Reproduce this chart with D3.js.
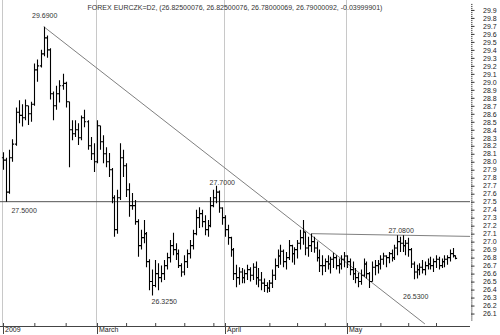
<!DOCTYPE html>
<html>
<head>
<meta charset="utf-8">
<script src="https://cdn.jsdelivr.net/npm/d3@7"></script>
<style>
body { margin: 0; background: #fff; }
svg { display: block; font-family: "Liberation Sans", Arial, sans-serif; }
</style>
</head>
<body>
<svg width="500" height="335"></svg>
<script>
// EUR/CZK, two bars per trading day (00:00 and 12:00 sessions)
const firstDay = "2009-02-09";
const lastDay = "2009-05-28";

const opens = [
  28.05, 28.02, 27.62, 28.05, 28.22, 28.62, 28.58, 28.55, 28.70, 28.60,
  28.72, 29.15, 29.20, 29.35, 29.55, 29.40, 28.85, 28.70, 28.85, 28.95,
  28.98, 28.75, 28.40, 28.35, 28.40, 28.30, 28.55, 28.50, 28.20, 28.10,
  28.00, 28.45, 28.25, 28.10, 28.00, 27.90, 27.55, 27.15, 27.55, 28.05,
  27.95, 27.65, 27.45, 27.45, 27.25, 26.95, 27.05, 27.10, 26.75, 26.50,
  26.45, 26.60, 26.55, 26.60, 26.70, 26.80, 26.95, 26.90, 26.85, 26.70,
  26.62, 26.75, 26.85, 26.95, 27.10, 27.30, 27.35, 27.25, 27.15, 27.20,
  27.45, 27.55, 27.62, 27.42, 27.30, 27.15, 27.05, 26.90, 26.60, 26.55,
  26.62, 26.55, 26.60, 26.65, 26.58, 26.68, 26.55, 26.52, 26.48, 26.45,
  26.42, 26.48, 26.58, 26.70, 26.82, 26.88, 26.75, 26.80, 26.95, 26.85,
  26.90, 26.98, 27.05, 27.12, 26.92, 26.95, 27.00, 26.92, 26.80, 26.70,
  26.70, 26.75, 26.72, 26.78, 26.80, 26.70, 26.72, 26.78, 26.82, 26.75,
  26.65, 26.60, 26.55, 26.50, 26.58, 26.72, 26.60, 26.50, 26.68, 26.70,
  26.72, 26.78, 26.82, 26.80, 26.85, 26.80, 26.92, 27.00, 26.98, 26.95,
  26.98, 26.90, 26.72, 26.62, 26.65, 26.68, 26.65, 26.70, 26.72, 26.70,
  26.75, 26.78, 26.70, 26.75, 26.78, 26.80, 26.85, 26.825
];
const highs = [
  28.12, 28.05, 28.15, 28.28, 28.68, 28.77, 28.72, 28.78, 28.70, 28.75,
  29.23, 29.28, 29.40, 29.69, 29.58, 29.42, 28.88, 28.95, 29.02, 29.10,
  29.00, 28.75, 28.52, 28.52, 28.48, 28.58, 28.65, 28.52, 28.31, 28.23,
  28.52, 28.45, 28.33, 28.18, 28.11, 27.92, 27.58, 27.65, 28.23, 28.15,
  27.98, 27.73, 27.61, 27.52, 27.28, 27.15, 27.27, 27.12, 26.78, 26.65,
  26.77, 26.73, 26.70, 26.77, 26.86, 27.02, 27.11, 26.98, 26.90, 26.73,
  26.83, 26.90, 27.02, 27.15, 27.40, 27.43, 27.40, 27.33, 27.27, 27.56,
  27.65, 27.70, 27.64, 27.43, 27.33, 27.21, 27.06, 26.92, 26.71, 26.68,
  26.67, 26.65, 26.71, 26.68, 26.73, 26.75, 26.67, 26.62, 26.54, 26.49,
  26.52, 26.65, 26.79, 26.90, 26.96, 26.90, 26.87, 27.02, 26.96, 26.93,
  27.02, 27.15, 27.27, 27.12, 27.06, 27.10, 27.06, 27.00, 26.90, 26.83,
  26.79, 26.83, 26.81, 26.86, 26.83, 26.79, 26.83, 26.87, 26.83, 26.79,
  26.75, 26.67, 26.61, 26.65, 26.79, 26.75, 26.62, 26.75, 26.77, 26.77,
  26.83, 26.86, 26.83, 26.87, 26.90, 26.96, 27.08, 27.06, 27.08, 27.02,
  27.05, 26.92, 26.75, 26.71, 26.73, 26.77, 26.75, 26.79, 26.81, 26.79,
  26.83, 26.81, 26.79, 26.83, 26.83, 26.90, 26.92, 26.825
];
const lows = [
  27.90, 27.50, 27.60, 28.00, 28.20, 28.48, 28.44, 28.52, 28.46, 28.50,
  28.70, 29.00, 29.18, 29.32, 29.30, 28.78, 28.52, 28.65, 28.74, 28.90,
  28.68, 27.93, 28.27, 28.31, 28.21, 28.27, 28.43, 28.15, 28.02, 27.87,
  27.98, 28.15, 27.98, 27.93, 27.81, 27.48, 27.06, 27.10, 27.52, 27.81,
  27.56, 27.31, 27.40, 27.21, 26.81, 26.90, 26.98, 26.68, 26.39, 26.325,
  26.43, 26.39, 26.49, 26.52, 26.65, 26.74, 26.83, 26.77, 26.67, 26.56,
  26.58, 26.67, 26.79, 26.90, 27.08, 27.17, 27.18, 27.08, 27.06, 27.18,
  27.43, 27.48, 27.36, 27.21, 27.06, 26.96, 26.81, 26.52, 26.43, 26.46,
  26.48, 26.48, 26.52, 26.50, 26.52, 26.46, 26.43, 26.39, 26.37, 26.36,
  26.37, 26.42, 26.52, 26.67, 26.71, 26.68, 26.65, 26.77, 26.74, 26.71,
  26.79, 26.90, 26.96, 26.83, 26.81, 26.87, 26.86, 26.75, 26.62, 26.58,
  26.62, 26.65, 26.60, 26.67, 26.65, 26.60, 26.65, 26.68, 26.67, 26.58,
  26.52, 26.48, 26.43, 26.46, 26.56, 26.54, 26.42, 26.50, 26.58, 26.60,
  26.65, 26.71, 26.68, 26.73, 26.75, 26.77, 26.83, 26.87, 26.87, 26.83,
  26.81, 26.67, 26.53, 26.54, 26.58, 26.60, 26.58, 26.65, 26.65, 26.62,
  26.67, 26.65, 26.67, 26.68, 26.71, 26.75, 26.80, 26.78
];
const closes = [
  28.02, 27.62, 28.05, 28.22, 28.62, 28.58, 28.55, 28.70, 28.60, 28.72,
  29.15, 29.20, 29.35, 29.55, 29.40, 28.85, 28.70, 28.85, 28.95, 28.98,
  28.75, 28.40, 28.35, 28.40, 28.30, 28.55, 28.50, 28.20, 28.10, 28.00,
  28.45, 28.25, 28.10, 28.00, 27.90, 27.55, 27.15, 27.55, 28.05, 27.95,
  27.65, 27.45, 27.45, 27.25, 26.95, 27.05, 27.10, 26.75, 26.50, 26.45,
  26.60, 26.55, 26.60, 26.70, 26.80, 26.95, 26.90, 26.85, 26.70, 26.62,
  26.75, 26.85, 26.95, 27.10, 27.30, 27.35, 27.25, 27.15, 27.20, 27.45,
  27.55, 27.62, 27.42, 27.30, 27.15, 27.05, 26.90, 26.60, 26.55, 26.62,
  26.55, 26.60, 26.65, 26.58, 26.68, 26.55, 26.52, 26.48, 26.45, 26.42,
  26.48, 26.58, 26.70, 26.82, 26.88, 26.75, 26.80, 26.95, 26.85, 26.90,
  26.98, 27.05, 27.12, 26.92, 26.95, 27.00, 26.92, 26.80, 26.70, 26.70,
  26.75, 26.72, 26.78, 26.80, 26.70, 26.72, 26.78, 26.82, 26.75, 26.65,
  26.60, 26.55, 26.50, 26.58, 26.72, 26.60, 26.50, 26.68, 26.70, 26.72,
  26.78, 26.82, 26.80, 26.85, 26.80, 26.92, 27.00, 26.98, 26.95, 26.98,
  26.90, 26.72, 26.62, 26.65, 26.68, 26.65, 26.70, 26.72, 26.70, 26.75,
  26.78, 26.70, 26.75, 26.78, 26.80, 26.85, 26.825, 26.79
];

const monthLabels = [
  ["2009-02-09", "2009"],
  ["2009-03-02", "March"],
  ["2009-04-01", "April"],
  ["2009-05-01", "May"]
];
const yLabels = [26.1, 26.2, 26.3, 26.4, 26.5, 26.6, 26.7, 26.8, 26.9, 27.0,
  27.1, 27.2, 27.3, 27.4, 27.5, 27.6, 27.7, 27.8, 27.9, 28.0,
  28.1, 28.2, 28.3, 28.4, 28.5, 28.6, 28.7, 28.8, 28.9, 29.0,
  29.1, 29.2, 29.3, 29.4, 29.5, 29.6, 29.7, 29.8, 29.9];

const title = "FOREX EURCZK=D2, (26.82500076, 26.82500076, 26.78000069, 26.79000092, -0.03999901)";

// drawn lines: [start, end], the second one runs on to the right edge
const trendDown = [["2009-02-17 12:00", 29.69], ["2009-05-21 00:00", 25.97]];
const trendFlat = [["2009-04-22 12:00", 27.10], ["2009-05-15 00:00", 27.08]];
const supportLevel = 27.5;

const markers = [
  ["2009-02-17 12:00", 29.69, "29.6900"],
  ["2009-02-09 12:00", 27.50, "27.5000"],
  ["2009-03-30 12:00", 27.70, "27.7000"],
  ["2009-03-13 12:00", 26.325, "26.3250"],
  ["2009-05-15 00:00", 27.08, "27.0800"],
  ["2009-05-19 00:00", 26.53, "26.5300"]
];

const svg = d3.select("svg");
const plotRight = 470;
const plotBottom = 326;

const parseDay = d3.timeParse("%Y-%m-%d");
const parseHour = d3.timeParse("%Y-%m-%d %H:%M");

// trading days only (no weekends)
const days = d3.timeDay.range(parseDay(firstDay), d3.timeDay.offset(parseDay(lastDay), 1))
  .filter(d => d.getDay() !== 0 && d.getDay() !== 6);

const dayPos = t => days.findIndex(d => +d === +d3.timeDay.floor(t)) + t.getHours() / 24;
const pos = s => dayPos(parseHour(s) || parseDay(s));

const bars = opens.map((o, i) => ({
  p: Math.floor(i / 2) + (i % 2) * 0.5,
  o, h: highs[i], l: lows[i], c: closes[i]
}));

// the bar spacing is not even over the months, so piecewise
const x = d3.scaleLinear()
  .domain([pos("2009-02-09"), pos("2009-03-02"), pos("2009-04-01"), pos("2009-05-01"), pos("2009-05-25")])
  .range([3, 97, 225, 347, 436]);

const y = d3.scaleLinear()
  .domain([25.944, 30.024])
  .range([plotBottom, 0]);

const px = v => Math.round(x(v)) + 0.5;

// month grid lines
svg.append("g")
  .selectAll("line")
  .data(monthLabels)
  .join("line")
  .attr("x1", d => px(pos(d[0])) - 1)
  .attr("x2", d => px(pos(d[0])) - 1)
  .attr("y1", 0)
  .attr("y2", plotBottom)
  .attr("stroke", "#c8c8c8");

// support line
svg.append("line")
  .attr("x1", 0).attr("x2", plotRight)
  .attr("y1", y(supportLevel)).attr("y2", y(supportLevel))
  .attr("stroke", "#555");

// trend lines
const p0 = trendDown.map(d => [x(pos(d[0])), y(d[1])]);
svg.append("line")
  .attr("x1", p0[0][0]).attr("y1", p0[0][1])
  .attr("x2", p0[1][0]).attr("y2", p0[1][1])
  .attr("stroke", "#808080");

const f0 = trendFlat.map(d => [x(pos(d[0])), y(d[1])]);
const slope = (f0[1][1] - f0[0][1]) / (f0[1][0] - f0[0][0]);
svg.append("line")
  .attr("x1", f0[0][0]).attr("y1", f0[0][1])
  .attr("x2", plotRight).attr("y2", f0[0][1] + slope * (plotRight - f0[0][0]))
  .attr("stroke", "#808080");

// OHLC bars
const g = svg.append("g").attr("stroke", "#000").attr("stroke-width", 1.1);
g.selectAll("path")
  .data(bars)
  .join("path")
  .attr("d", d => {
    const bx = px(d.p);
    return `M${bx},${y(d.h)}V${y(d.l)}` +
      `M${bx - 1.6},${y(d.o)}H${bx}` +
      `M${bx},${y(d.c)}H${bx + 1.6}`;
  });

// price markers
const shift = {
  "29.6900": [1, -9], "27.5000": [18, 11], "27.7000": [6, -0.5],
  "26.3250": [12, 8], "27.0800": [-1.5, -2], "26.5300": [2, 20]
};
svg.append("g")
  .selectAll("text")
  .data(markers)
  .join("text")
  .attr("x", d => x(pos(d[0])) + shift[d[2]][0])
  .attr("y", d => y(d[1]) + shift[d[2]][1])
  .attr("text-anchor", "middle")
  .attr("font-size", 7)
  .attr("fill", "#333")
  .text(d => d[2]);

// title
svg.append("text")
  .attr("x", plotRight / 2)
  .attr("y", 9.5)
  .attr("text-anchor", "middle")
  .attr("font-size", 7)
  .attr("fill", "#333")
  .text(title);

// bottom axis: weekly ticks (Mondays) and month ticks with labels
const monthPos = monthLabels.map(d => pos(d[0]));
const mondays = days.map((d, i) => [d, i])
  .filter(([d, i]) => d.getDay() === 1)
  .map(([d, i]) => i)
  .filter(i => !monthPos.some(m => i - m > 0 && i - m < 5));

const weekAxis = svg.append("g")
  .attr("transform", `translate(0,${plotBottom})`)
  .call(d3.axisBottom(x).tickValues(mondays).tickSizeInner(-3).tickSizeOuter(0).tickFormat(""));
weekAxis.select(".domain").attr("d", `M0,0.5H${plotRight}`).attr("stroke", "#444");
weekAxis.selectAll(".tick line").attr("stroke", "#444");

const monthAxis = svg.append("g")
  .attr("transform", `translate(0,${plotBottom - 3})`)
  .call(d3.axisBottom(x).tickValues(monthPos).tickSize(11).tickFormat((d, i) => monthLabels[i][1]));
monthAxis.select(".domain").remove();
monthAxis.selectAll(".tick line").attr("stroke", "#444");
monthAxis.selectAll(".tick text")
  .attr("text-anchor", "start")
  .attr("x", 1.5)
  .attr("y", 4)
  .attr("dy", "0.71em")
  .attr("font-size", 7)
  .attr("font-family", "Liberation Sans, Arial, sans-serif")
  .attr("fill", "#222");

// right axis
const minorTicks = d3.range(26025, 30000, 25).map(v => v / 1000);
const yMinor = svg.append("g")
  .attr("transform", `translate(${plotRight + 1},0)`)
  .call(d3.axisRight(y).tickValues(minorTicks).tickSize(1.5).tickFormat(""));
yMinor.select(".domain").remove();
yMinor.selectAll(".tick line").attr("stroke", "#555");

const yAxis = svg.append("g")
  .attr("transform", `translate(${plotRight + 1},0)`)
  .call(d3.axisRight(y).tickValues(yLabels).tickSize(3.5).tickPadding(8.5).tickFormat(d3.format(".1f")));
yAxis.select(".domain").remove();
yAxis.selectAll(".tick line").attr("stroke", "#333");
yAxis.selectAll(".tick text")
  .attr("font-size", 7)
  .attr("font-family", "Liberation Sans, Arial, sans-serif")
  .attr("fill", "#222");
</script>
</body>
</html>
